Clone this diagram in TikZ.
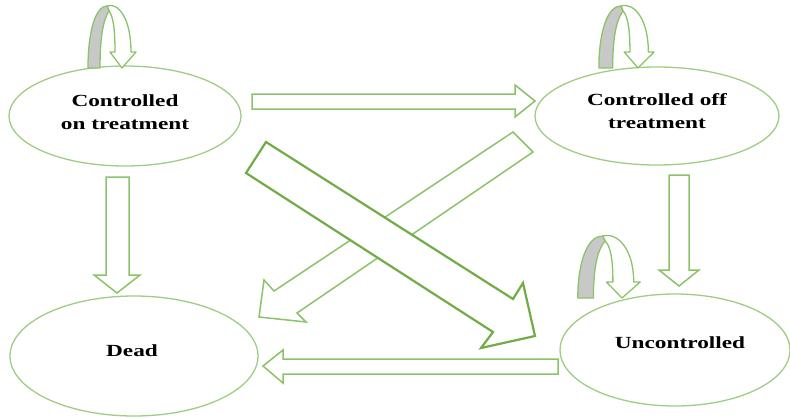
\documentclass[tikz,border=0pt]{standalone}
\usepackage{fontspec}
\setmainfont{Liberation Serif}
\usetikzlibrary{shapes.geometric}
\definecolor{ellcol}{RGB}{160,205,130}
\definecolor{arrlight}{RGB}{140,195,105}
\definecolor{arrdark}{RGB}{112,173,71}
\definecolor{bandgray}{RGB}{200,200,200}
\newcommand{\wide}[1]{\scalebox{1.37}[1]{#1}}
\begin{document}
\begin{tikzpicture}[x=1pt,y=-1pt,
  state/.style={draw=ellcol,line width=1.3pt,ellipse,inner sep=0pt},
  lbl/.style={inner sep=0pt,align=center,font=\bfseries\fontsize{17}{23}\selectfont},
  blockarrow/.style={draw=arrlight,line width=1.5pt,fill=white,line join=miter},
  darkarrow/.style={draw=arrdark,line width=2.2pt,fill=white,line join=miter},
  whiteband/.style={draw=arrlight,line width=1.3pt,fill=white,line join=round},
  grayband/.style={draw=arrlight,line width=1.3pt,fill=bandgray,line join=round}]
\useasboundingbox (0,0) rectangle (790,418);
\fill[white] (0,0) rectangle (790,418);

% states
\node[state,minimum width=232pt,minimum height=100pt] (on) at (125,116) {};
\node[state,minimum width=244pt,minimum height=98pt] (off) at (657,116) {};
\node[state,minimum width=248pt,minimum height=120pt] (dead) at (134,356) {};
\node[state,minimum width=230pt,minimum height=112pt] (unc) at (675,350) {};

\node[lbl] (ton) at (125,112) {\wide{Controlled}\\\wide{on treatment}};
\node[lbl] (toff) at (657,111) {\wide{Controlled off}\\\wide{treatment}};
\node[lbl] (tdead) at (132,351) {\wide{Dead}};
\node[lbl] (tunc) at (680,343) {\wide{Uncontrolled}};

% block arrows
\draw[blockarrow] (252,94) -- (515,94) -- (515,85) -- (535,101) -- (515,117) -- (515,109) -- (252,109) -- cycle;
\draw[blockarrow] (106,177) -- (129,177) -- (129,275) -- (140,275) -- (117,293) -- (94,275) -- (106,275) -- cycle;
\draw[blockarrow] (669,175) -- (689,175) -- (689,270) -- (699,270) -- (679,286) -- (659,270) -- (669,270) -- cycle;
\draw[blockarrow] (558,359) -- (558,374) -- (283,374) -- (283,383) -- (263,366) -- (283,350) -- (283,359) -- cycle;
\draw[blockarrow] (513,132) -- (533,152) -- (297,313) -- (306,322) -- (259,317) -- (264,280) -- (274,291) -- cycle;
\draw[darkarrow] (266,142) -- (513,299) -- (523,283) -- (535,336) -- (481,348) -- (493,332) -- (246,173) -- cycle;

% self loops
\foreach \tx/\ty/\sx in {122/68/1, 638/68/1.15, 622/298/1.3}{
  \begin{scope}[shift={(\tx,\ty)},xscale=\sx]
    \draw[whiteband] (-15,-62) .. controls (-4,-66) and (9,-50) .. (9,-16) -- (14,-16) -- (0,0) -- (-12,-16) -- (-7,-16) .. controls (-7,-40) and (-9,-52) .. (-13,-57) -- cycle;
    \draw[grayband] (-34,0) .. controls (-34,-38) and (-26,-62) .. (-15,-62) -- (-13,-57) .. controls (-19,-48) and (-22,-30) .. (-22,0) -- cycle;
  \end{scope}
}
\end{tikzpicture}
\end{document}
